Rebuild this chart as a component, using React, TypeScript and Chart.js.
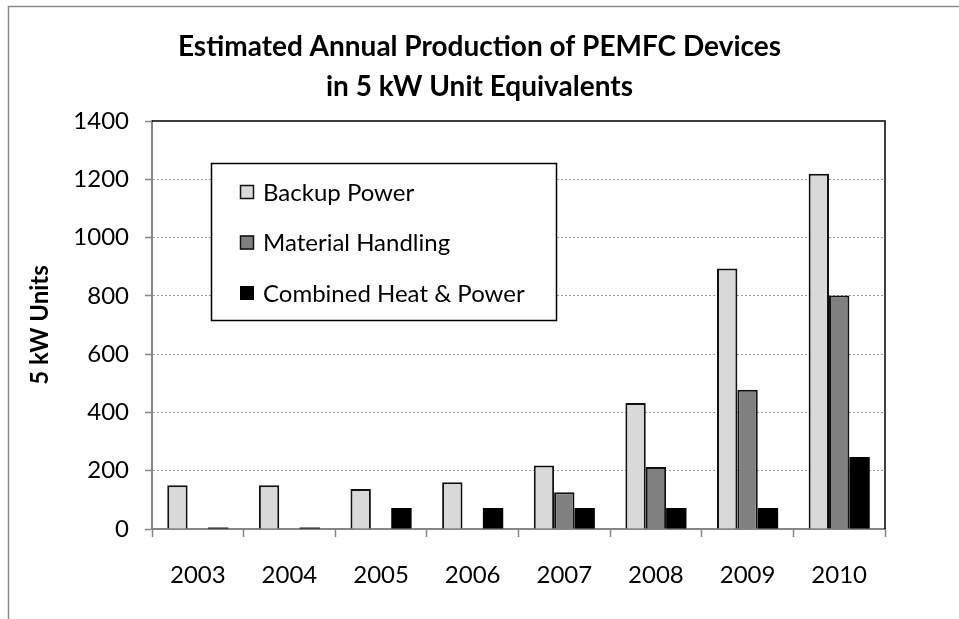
import { useEffect, useRef } from 'react';
import { Chart, registerables } from 'chart.js';

Chart.register(...registerables);

const categories = ['2003', '2004', '2005', '2006', '2007', '2008', '2009', '2010'];
const backupPower = [150, 150, 137, 160, 218, 432, 894, 1219];
const materialHandling = [0, 0, 0, 0, 126, 213, 478, 801];
const combinedHeatPower = [5, 5, 72, 72, 72, 72, 72, 247];
const seriesNames = ['Backup Power', 'Material Handling', 'Combined Heat & Power'];
const titleLines = ['Estimated Annual Production of PEMFC Devices', 'in 5 kW Unit Equivalents'];
const yAxisTitle = '5 kW Units';

const FONT = 'Lato, "Open Sans", sans-serif';
const AXIS_GRAY = '#868686';

const decorPlugin = {
  id: 'decor',
  beforeDraw(chart: any) {
    const ctx = chart.ctx;
    ctx.save();
    ctx.fillStyle = '#ffffff';
    ctx.fillRect(0, 0, chart.width, chart.height);
    ctx.strokeStyle = '#8c8c8c';
    ctx.lineWidth = 1.5;
    ctx.beginPath();
    ctx.moveTo(8.5, chart.height + 5);
    ctx.lineTo(8.5, 6.5);
    ctx.lineTo(chart.width + 5, 6.5);
    ctx.stroke();
    ctx.restore();
  },
  afterDatasetsDraw(chart: any) {
    const { ctx, chartArea } = chart;
    ctx.save();
    ctx.strokeStyle = '#000000';
    ctx.lineWidth = 1.5;
    ctx.beginPath();
    ctx.moveTo(chartArea.left, chartArea.top);
    ctx.lineTo(chartArea.right, chartArea.top);
    ctx.lineTo(chartArea.right, chartArea.bottom);
    ctx.stroke();
    ctx.restore();
  },
  afterDraw(chart: any) {
    const { ctx, chartArea } = chart;
    ctx.save();
    // Title
    ctx.fillStyle = '#000000';
    ctx.font = `bold 28px ${FONT}`;
    ctx.textAlign = 'center';
    ctx.textBaseline = 'middle';
    ctx.fillText(titleLines[0], chart.width / 2, 47);
    ctx.fillText(titleLines[1], chart.width / 2, 87);

    // Legend box inside plot area
    const bx = chartArea.left + 59;
    const by = chartArea.top + 42;
    const bw = 345;
    const bh = 157;
    ctx.fillStyle = '#ffffff';
    ctx.fillRect(bx, by, bw, bh);
    ctx.strokeStyle = '#000000';
    ctx.lineWidth = 1.5;
    ctx.strokeRect(bx + 0.5, by + 0.5, bw, bh);
    ctx.font = `24px ${FONT}`;
    ctx.textAlign = 'left';
    ctx.textBaseline = 'middle';
    chart.data.datasets.forEach((ds: any, i: number) => {
      const cy = by + 29 + i * 50.5;
      const sx = bx + 29;
      ctx.fillStyle = ds.backgroundColor;
      ctx.fillRect(sx, cy - 7, 14, 14);
      if (ds.borderWidth > 0) {
        ctx.strokeStyle = ds.borderColor;
        ctx.lineWidth = 1.5;
        ctx.strokeRect(sx + 0.5, cy - 6.5, 13, 13);
      }
      ctx.fillStyle = '#000000';
      ctx.fillText(ds.label, bx + 52, cy + 1);
    });
    ctx.restore();
  },
};

export default function App() {
  const canvasRef = useRef<HTMLCanvasElement | null>(null);

  useEffect(() => {
    if (!canvasRef.current) return;
    const chart = new Chart(canvasRef.current, {
      type: 'bar',
      data: {
        labels: categories,
        datasets: [
          {
            label: seriesNames[0],
            data: backupPower,
            backgroundColor: '#d9d9d9',
            borderColor: '#111111',
            borderWidth: 2,
          },
          {
            label: seriesNames[1],
            data: materialHandling,
            backgroundColor: '#808080',
            borderColor: '#111111',
            borderWidth: 2,
          },
          {
            label: seriesNames[2],
            data: combinedHeatPower,
            backgroundColor: '#000000',
            borderColor: '#000000',
            borderWidth: 0,
          },
        ],
      },
      options: {
        responsive: false,
        animation: false,
        devicePixelRatio: 1,
        layout: { padding: { top: 121, right: 74, bottom: 0, left: 0 } },
        datasets: {
          bar: { categoryPercentage: 0.667, barPercentage: 1 },
        },
        plugins: {
          legend: { display: false },
          title: { display: false },
          tooltip: { enabled: false },
        },
        scales: {
          x: {
            z: 1,
            afterFit: (scale: any) => {
              scale.height = 90;
            },
            grid: {
              display: true,
              drawOnChartArea: false,
              offset: true,
              tickLength: 8,
              tickColor: AXIS_GRAY,
              tickWidth: 1.5,
            },
            border: { display: true, color: AXIS_GRAY, width: 2 },
            ticks: {
              color: '#000000',
              font: { family: FONT, size: 24 },
              padding: 24,
            },
          },
          y: {
            min: 0,
            max: 1400,
            afterFit: (scale: any) => {
              scale.width = 152;
            },
            ticks: {
              stepSize: 200,
              color: '#000000',
              font: { family: FONT, size: 24 },
              padding: 16,
              callback: (v: any) => String(v),
            },
            grid: {
              color: (ctx: any) =>
                ctx.tick && (ctx.tick.value === 0 || ctx.tick.value === 1400)
                  ? 'rgba(0,0,0,0)'
                  : '#9a9a9a',
              lineWidth: 1,
              tickLength: 7,
              tickColor: AXIS_GRAY,
              tickWidth: 1.5,
              tickBorderDash: [],
            },
            border: { display: true, color: AXIS_GRAY, width: 2, dash: [2, 2] },
            title: {
              display: true,
              text: yAxisTitle,
              color: '#000000',
              font: { family: FONT, size: 24, weight: 'bold' },
              padding: { top: 26, bottom: 0 },
            },
          },
        },
      },
      plugins: [decorPlugin],
    } as any);
    return () => chart.destroy();
  }, []);

  return (
    <div style={{ position: 'absolute', left: 0, top: 0, width: 959, height: 619 }}>
      <canvas ref={canvasRef} width={959} height={619} style={{ display: 'block' }} />
    </div>
  );
}
